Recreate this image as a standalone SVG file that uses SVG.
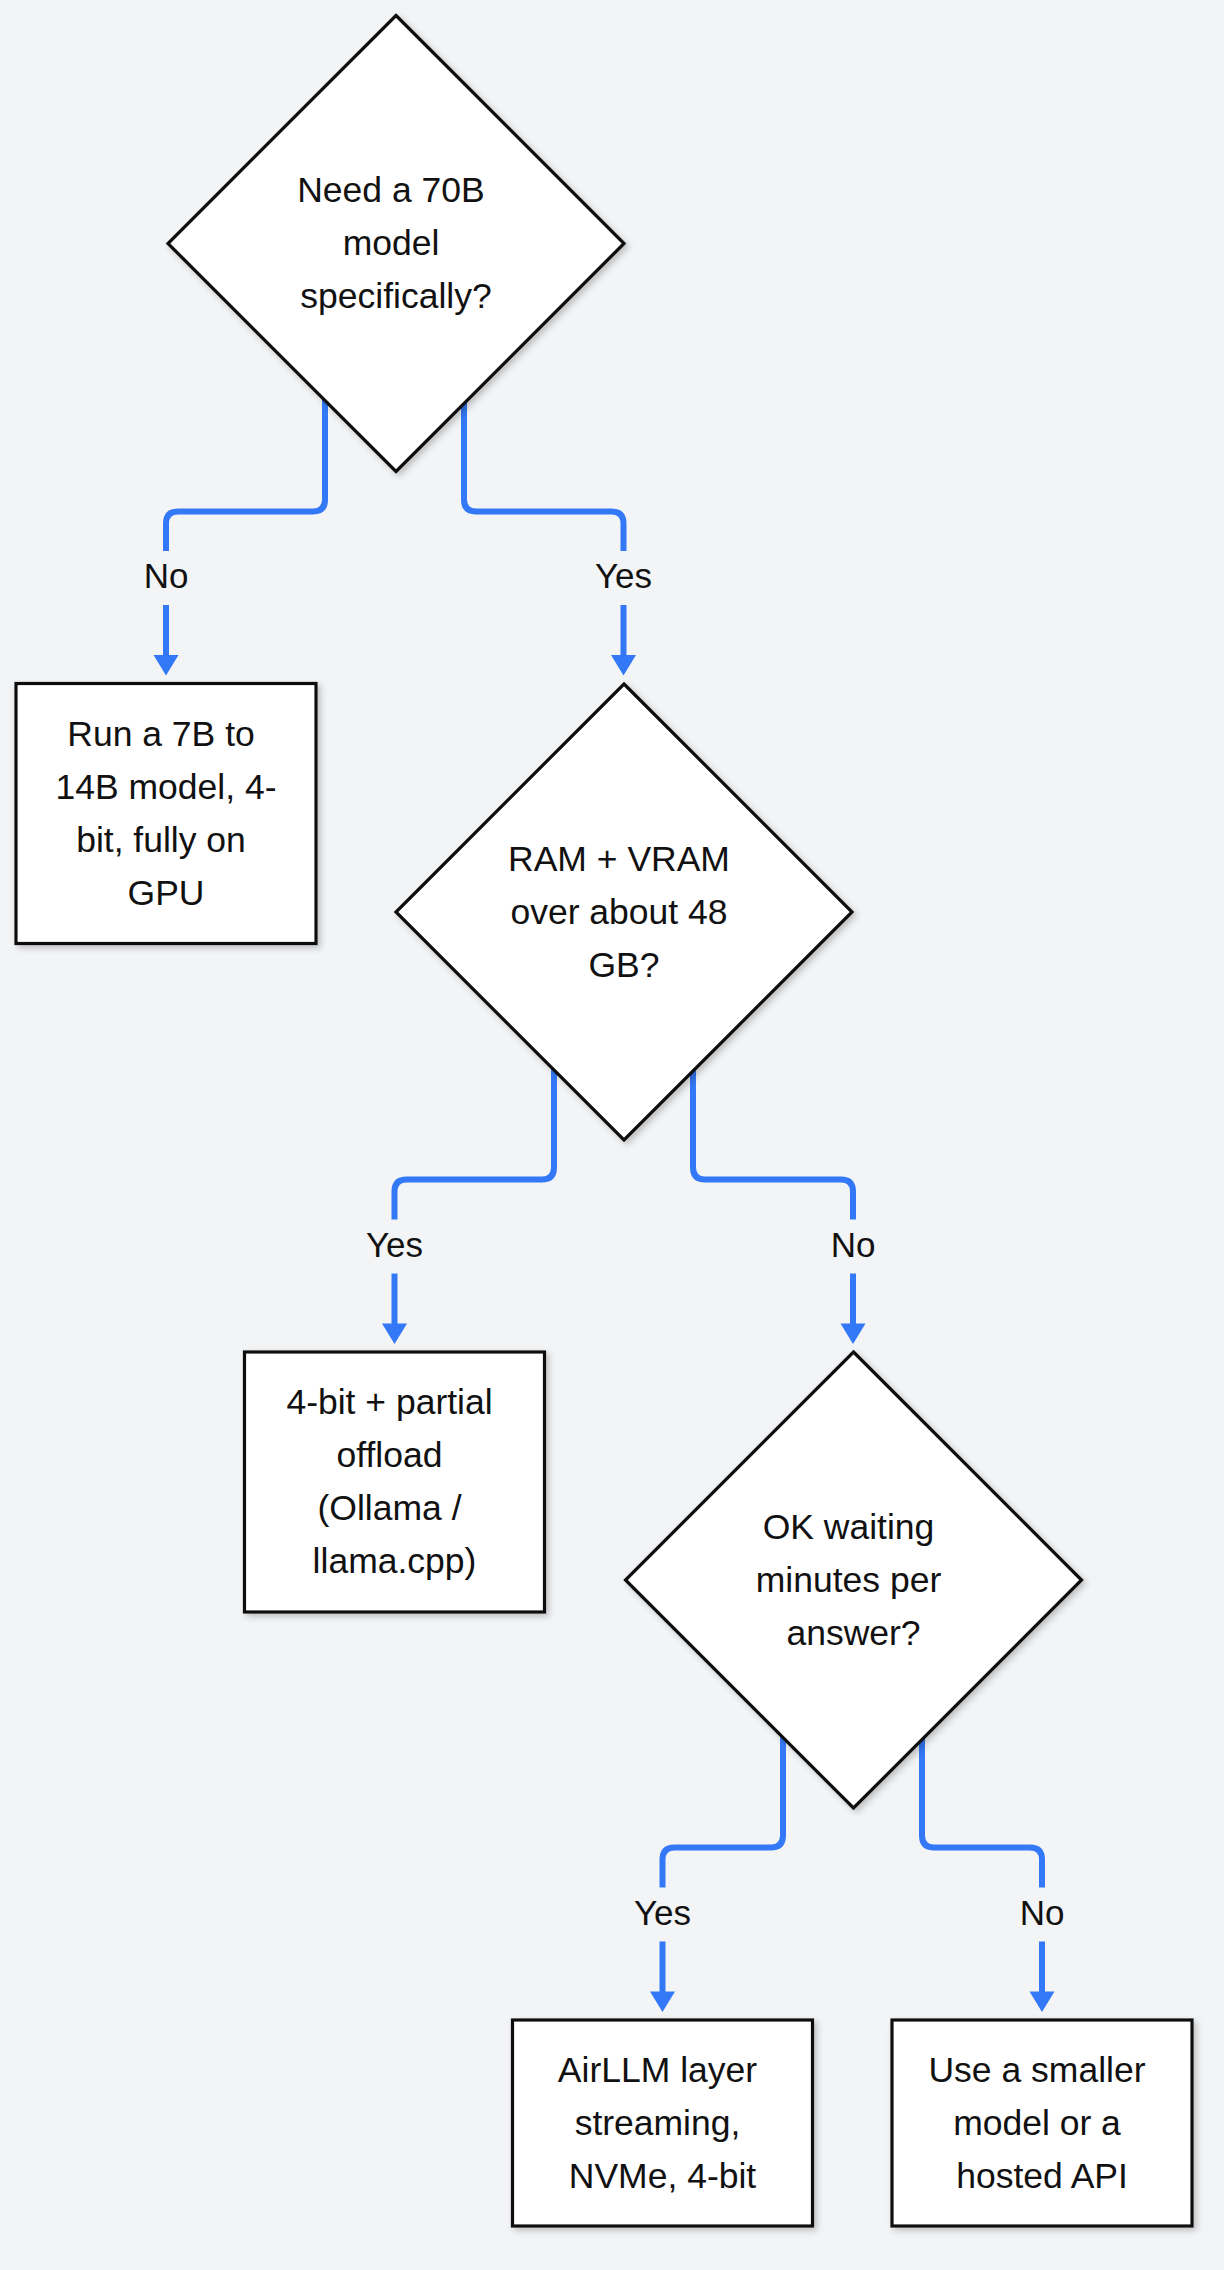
<svg xmlns="http://www.w3.org/2000/svg" width="1224" height="2270" viewBox="0 0 1224 2270">
  <style>
    .node { fill: #ffffff; stroke: #111111; stroke-width: 3.2; filter: url(#shadow); }
    .txt { font-family: "Liberation Sans", Arial, sans-serif; font-size: 35.5px; fill: #111111; text-anchor: middle; }
    .edge { fill: none; stroke: #3378f6; stroke-width: 6; }
    .head { fill: #3378f6; }
    .lblbg { fill: #f3f4f6; }
    .lbl { font-family: "Liberation Sans", Arial, sans-serif; font-size: 35px; fill: #111111; text-anchor: middle; }
  </style>
  <defs>
    <filter id="shadow" x="-10%" y="-10%" width="130%" height="130%">
      <feDropShadow dx="3" dy="3" stdDeviation="3" flood-color="#000000" flood-opacity="0.22"/>
    </filter>
  </defs>
  <rect x="0" y="0" width="1224" height="2270" fill="#f3f4f6"/>

  <g id="connectors">
    <!-- D1 -> Box1 (No) -->
    <path class="edge" d="M325,364 V499.5 Q325,511.5 313,511.5 H178 Q166,511.5 166,523.5 V656"/>
    <polygon class="head" points="153.5,655 178.5,655 166,675.5"/>
    <rect class="lblbg" x="136" y="551" width="60" height="54"/>
    <text class="lbl" x="166" y="588">No</text>
    <!-- D1 -> D2 (Yes) -->
    <path class="edge" d="M464,364 V499.5 Q464,511.5 476,511.5 H611.5 Q623.5,511.5 623.5,523.5 V656"/>
    <polygon class="head" points="611,655 636,655 623.5,675.5"/>
    <rect class="lblbg" x="591" y="551" width="65" height="54"/>
    <text class="lbl" x="623.5" y="588">Yes</text>

    <!-- D2 -> Box2 (Yes) -->
    <path class="edge" d="M554,1032 V1167.5 Q554,1179.5 542,1179.5 H406.5 Q394.5,1179.5 394.5,1191.5 V1324.5"/>
    <polygon class="head" points="382,1323.5 407,1323.5 394.5,1344"/>
    <rect class="lblbg" x="362" y="1219.5" width="65" height="54"/>
    <text class="lbl" x="394.5" y="1256.5">Yes</text>
    <!-- D2 -> D3 (No) -->
    <path class="edge" d="M693,1032 V1167.5 Q693,1179.5 705,1179.5 H841 Q853,1179.5 853,1191.5 V1324.5"/>
    <polygon class="head" points="840.5,1323.5 865.5,1323.5 853,1344"/>
    <rect class="lblbg" x="823" y="1219.5" width="60" height="54"/>
    <text class="lbl" x="853" y="1256.5">No</text>

    <!-- D3 -> Box4 (Yes) -->
    <path class="edge" d="M783,1700 V1835.5 Q783,1847.5 771,1847.5 H674.5 Q662.5,1847.5 662.5,1859.5 V1992.5"/>
    <polygon class="head" points="650,1991.5 675,1991.5 662.5,2012"/>
    <rect class="lblbg" x="630" y="1887.5" width="65" height="54"/>
    <text class="lbl" x="662.5" y="1924.5">Yes</text>
    <!-- D3 -> Box5 (No) -->
    <path class="edge" d="M922,1700 V1835.5 Q922,1847.5 934,1847.5 H1030 Q1042,1847.5 1042,1859.5 V1992.5"/>
    <polygon class="head" points="1029.5,1991.5 1054.5,1991.5 1042,2012"/>
    <rect class="lblbg" x="1012" y="1887.5" width="60" height="54"/>
    <text class="lbl" x="1042" y="1924.5">No</text>
  </g>

  <g id="d1">
    <polygon class="node" points="396,15.5 624,243.5 396,471.5 168,243.5"/>
    <text class="txt"><tspan x="391" y="202">Need a 70B</tspan><tspan x="391" y="255">model</tspan><tspan x="396" y="308">specifically?</tspan></text>
  </g>

  <g id="box1">
    <rect class="node" x="16" y="683.5" width="300" height="260"/>
    <text class="txt"><tspan x="161" y="745.5">Run a 7B to</tspan><tspan x="166" y="798.5">14B model, 4-</tspan><tspan x="161" y="851.5">bit, fully on</tspan><tspan x="166" y="904.5">GPU</tspan></text>
  </g>

  <g id="d2">
    <polygon class="node" points="624,684 852,912 624,1140 396,912"/>
    <text class="txt"><tspan x="619" y="870.5">RAM + VRAM</tspan><tspan x="619" y="923.5">over about 48</tspan><tspan x="624" y="976.5">GB?</tspan></text>
  </g>

  <g id="box2">
    <rect class="node" x="244.5" y="1352" width="300" height="260"/>
    <text class="txt"><tspan x="389.5" y="1413.5">4-bit + partial</tspan><tspan x="389.5" y="1466.5">offload</tspan><tspan x="389.5" y="1519.5">(Ollama /</tspan><tspan x="394.5" y="1572.5">llama.cpp)</tspan></text>
  </g>

  <g id="d3">
    <polygon class="node" points="853.5,1352 1081.5,1580 853.5,1808 625.5,1580"/>
    <text class="txt"><tspan x="848.5" y="1538.5">OK waiting</tspan><tspan x="848.5" y="1591.5">minutes per</tspan><tspan x="853.5" y="1644.5">answer?</tspan></text>
  </g>

  <g id="box4">
    <rect class="node" x="512.5" y="2020" width="300" height="206"/>
    <text class="txt"><tspan x="657.5" y="2081.5">AirLLM layer</tspan><tspan x="657.5" y="2134.5">streaming,</tspan><tspan x="662.5" y="2187.5">NVMe, 4-bit</tspan></text>
  </g>

  <g id="box5">
    <rect class="node" x="892" y="2020" width="300" height="206"/>
    <text class="txt"><tspan x="1037" y="2081.5">Use a smaller</tspan><tspan x="1037" y="2134.5">model or a</tspan><tspan x="1042" y="2187.5">hosted API</tspan></text>
  </g>
</svg>
